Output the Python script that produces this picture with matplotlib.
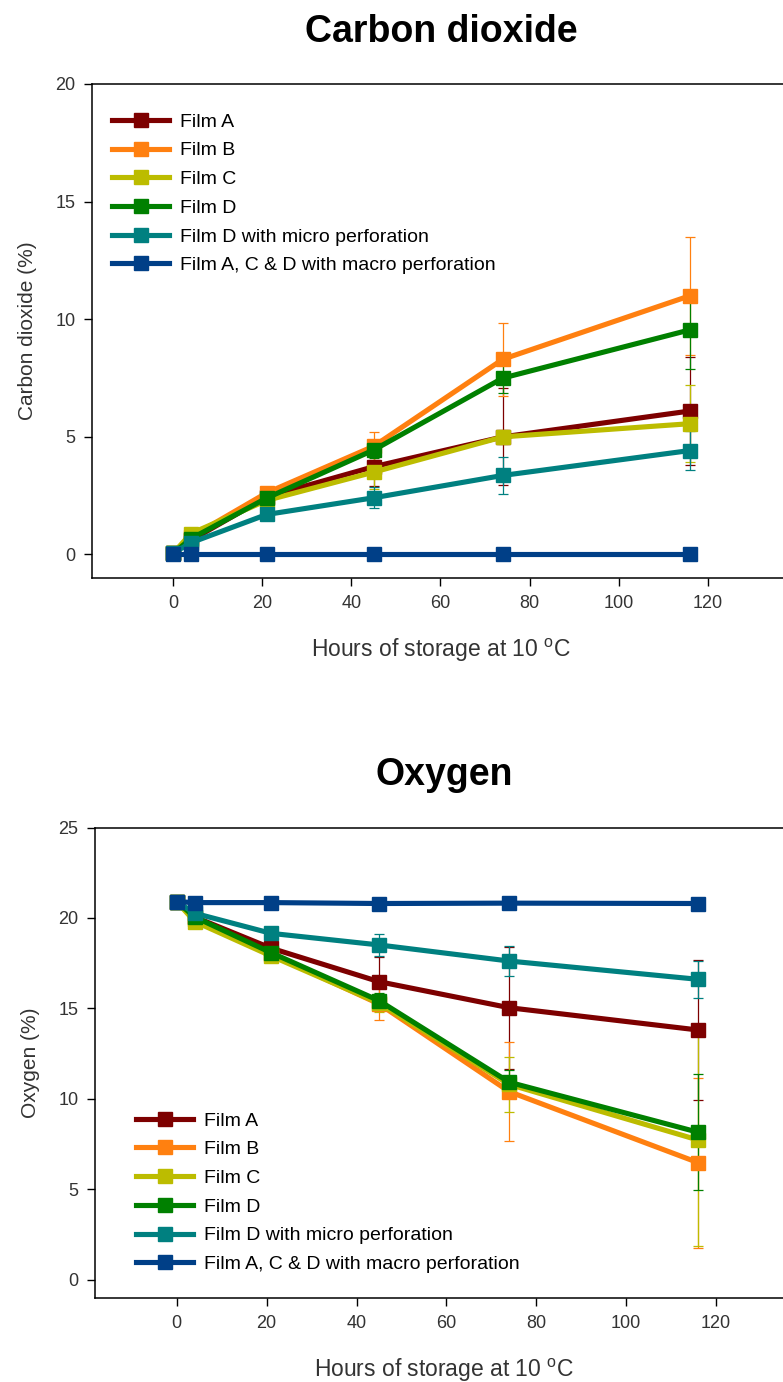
import matplotlib
matplotlib.use("Agg")
import matplotlib.pyplot as plt

plt.rcParams['font.family'] = ['Liberation Sans', 'DejaVu Sans']
plt.rcParams['mathtext.fontset'] = 'custom'
plt.rcParams['mathtext.rm'] = 'Liberation Sans'

# --- datos ---
horas = [0, 4, 21, 45, 74, 116]

etiquetas = ["Film A", "Film B", "Film C", "Film D",
             "Film D with micro perforation",
             "Film A, C & D with macro perforation"]
colores = ["#7d0000", "#ff8010", "#bcbc00", "#008000", "#008080", "#003f87"]

# dioxido de carbono (%)
co2_a = [0.05, 0.60, 2.45, 3.73, 5.00, 6.10]
co2_b = [0.05, 0.75, 2.62, 4.60, 8.30, 11.00]
co2_c = [0.05, 0.89, 2.30, 3.50, 5.00, 5.56]
co2_d = [0.05, 0.67, 2.40, 4.44, 7.50, 9.55]
co2_micro = [0.05, 0.50, 1.70, 2.41, 3.36, 4.42]
co2_macro = [0.00, 0.00, 0.00, 0.00, 0.00, 0.00]

co2_err_a = [0, 0.10, 0.15, 0.80, 2.06, 2.30]
co2_err_b = [0, 0.10, 0.20, 0.60, 1.55, 2.50]
co2_err_c = [0, 0.10, 0.15, 0.70, 0.30, 1.64]
co2_err_d = [0, 0.10, 0.15, 0.35, 0.65, 1.65]
co2_err_micro = [0, 0.05, 0.10, 0.45, 0.80, 0.84]
co2_err_macro = [0, 0, 0, 0, 0, 0]

# oxigeno (%)
o2_a = [20.9, 20.05, 18.33, 16.48, 15.04, 13.81]
o2_b = [20.9, 19.95, 18.00, 15.25, 10.40, 6.48]
o2_c = [20.9, 19.80, 17.90, 15.30, 10.80, 7.73]
o2_d = [20.9, 20.05, 18.08, 15.43, 10.92, 8.16]
o2_micro = [20.9, 20.26, 19.15, 18.51, 17.62, 16.61]
o2_macro = [20.9, 20.85, 20.85, 20.80, 20.82, 20.80]

o2_err_a = [0, 0.10, 0.20, 1.35, 3.37, 3.85]
o2_err_b = [0, 0.10, 0.20, 0.90, 2.75, 4.70]
o2_err_c = [0, 0.10, 0.20, 0.50, 1.50, 5.83]
o2_err_d = [0, 0.10, 0.20, 0.40, 0.70, 3.20]
o2_err_micro = [0, 0.10, 0.15, 0.62, 0.83, 1.02]
o2_err_macro = [0, 0, 0, 0, 0, 0]

co2 = [co2_a, co2_b, co2_c, co2_d, co2_micro, co2_macro]
co2_err = [co2_err_a, co2_err_b, co2_err_c, co2_err_d, co2_err_micro, co2_err_macro]
o2 = [o2_a, o2_b, o2_c, o2_d, o2_micro, o2_macro]
o2_err = [o2_err_a, o2_err_b, o2_err_c, o2_err_d, o2_err_micro, o2_err_macro]

W, H = 783, 1382
fig = plt.figure(figsize=(W / 100, H / 100), dpi=100)
GRIS = "#333333"

def px_axes(x0, x1, ytop, ybot):
    return fig.add_axes([x0 / W, 1 - ybot / H, (x1 - x0) / W, (ybot - ytop) / H])

def panel(ax, series, errs, ylim, yticks, ylabel, legend_loc, legend_anchor,
          xlab_pos, ylab_pos):
    handles = []
    for ys, es, col in zip(series, errs, colores):
        c = ax.errorbar(horas, ys, yerr=es, fmt="-s", color=col, lw=3.7,
                        ms=9.5, elinewidth=0.9, capsize=3.5, capthick=0.9)
        handles.append(c[0])
    ax.set_xlim(-18.2, 140)
    ax.set_ylim(*ylim)
    ax.set_xticks([0, 20, 40, 60, 80, 100, 120])
    ax.set_yticks(yticks)
    ax.spines["right"].set_visible(False)
    for s in ax.spines.values():
        s.set_linewidth(1.1)
    ax.tick_params(direction="out", length=6, width=1, labelsize=13,
                   labelcolor=GRIS, pad=6)
    ax.set_xlabel("Hours of storage at 10 $^{\\mathrm{o}}$C", fontsize=16.5,
                  color=GRIS)
    ax.set_ylabel(ylabel, fontsize=15, color=GRIS)
    ax.xaxis.set_label_coords(*xlab_pos)
    ax.yaxis.set_label_coords(*ylab_pos)
    ax.legend(handles, etiquetas, loc=legend_loc, bbox_to_anchor=legend_anchor,
              frameon=False, fontsize=14, handlelength=2.95,
              handletextpad=0.55, labelspacing=0.57, borderaxespad=0,
              borderpad=0)

ax1 = px_axes(92, 797, 84, 578)
panel(ax1, co2, co2_err, (-1, 20), [0, 5, 10, 15, 20], "Carbon dioxide (%)",
      "upper left", (0.0284, 0.941), (0.495, -0.119), (-0.078, 0.5))
fig.text(441 / W, 1 - 32 / H, "Carbon dioxide", ha="center", va="center",
         fontsize=27, fontweight="bold")

ax2 = px_axes(95, 806, 827.5, 1298)
panel(ax2, o2, o2_err, (-1, 25), [0, 5, 10, 15, 20, 25], "Oxygen (%)",
      "lower left", (0.0577, 0.053), (0.491, -0.125), (-0.077, 0.5))
fig.text(444 / W, 1 - 775 / H, "Oxygen", ha="center", va="center",
         fontsize=27, fontweight="bold")

fig.savefig("out.png", dpi=100)
